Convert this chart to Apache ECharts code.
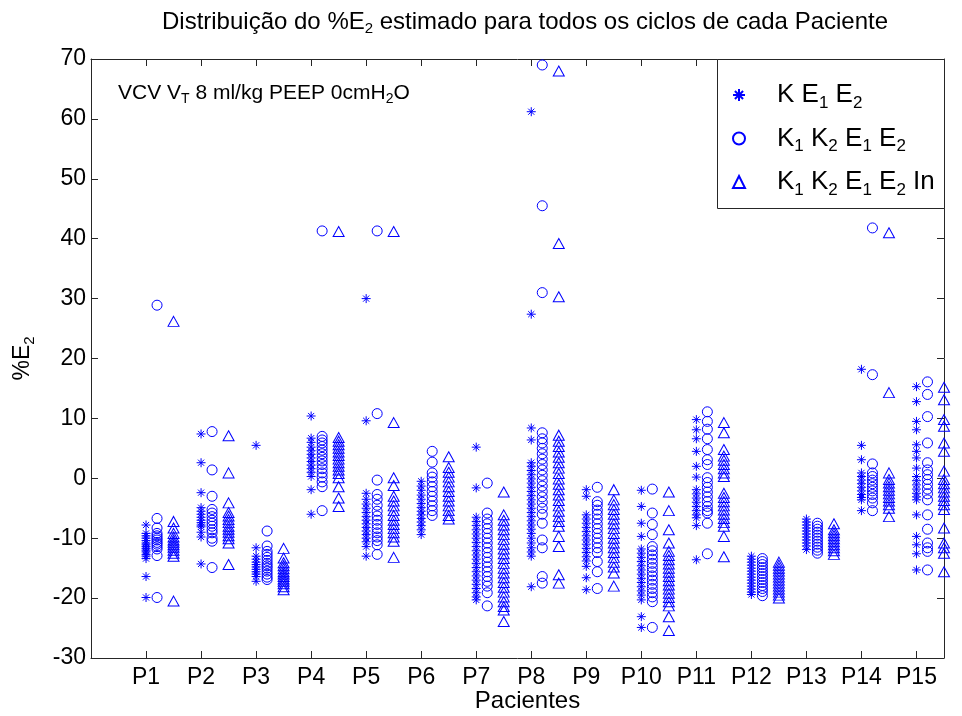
<!DOCTYPE html>
<html>
<head>
<meta charset="utf-8">
<script src="https://cdn.jsdelivr.net/npm/echarts@6/dist/echarts.min.js"></script>
<style>
  html, body { margin: 0; padding: 0; background: #fff; }
  #chart { width: 962px; height: 716px; }
</style>
</head>
<body>
<div id="chart"></div>
<script>
// Patients on the x axis
const patients = ['P1','P2','P3','P4','P5','P6','P7','P8','P9','P10','P11','P12','P13','P14','P15'];

// y axis range and step (%E2)
const yMin = -30;
const yMax = 70;
const yStep = 10;

// Series names (as plain text; subscripts are added in the legend formatter)
const seriesNames = ['K E1 E2', 'K1 K2 E1 E2', 'K1 K2 E1 E2 In'];

// %E2 estimated for every cycle, one list per patient — model K E1 E2
const kE1E2 = [
  [-7.8, -9.2, -9.6, -10.0, -10.4, -10.8, -11.1, -11.4, -11.7, -12.0, -12.3, -12.7, -13.0, -13.4, -16.4, -19.9],
  [7.4, 2.6, -2.4, -4.9, -5.5, -6.0, -6.5, -7.0, -7.4, -7.8, -8.1, -9.0, -9.8, -14.3],
  [5.5, -11.6, -13.0, -13.5, -14.0, -14.4, -14.8, -15.2, -15.6, -16.0, -16.4, -17.2],
  [10.4, 6.7, 6.0, 5.2, 4.6, 4.0, 3.4, 2.8, 2.2, 1.6, 1.0, 0.3, -1.9, -6.0],
  [30.0, 9.6, -2.5, -3.5, -4.3, -5.0, -5.7, -6.4, -7.0, -7.6, -8.2, -8.8, -9.4, -10.0, -10.6, -11.4, -13.0],
  [-0.5, -1.3, -2.0, -2.8, -3.5, -4.2, -4.9, -5.5, -6.1, -6.7, -7.3, -7.9, -8.6, -9.4],
  [5.2, -1.6, -6.5, -7.2, -7.9, -8.6, -9.3, -10.0, -10.7, -11.4, -12.1, -12.8, -13.5, -14.2, -14.9, -15.6, -16.3, -17.0, -17.7, -18.4, -19.1, -19.8, -20.3],
  [61.2, 27.4, 8.4, 6.4, 2.6, 2.0, 1.3, 0.6, -0.1, -0.8, -1.5, -2.2, -2.9, -3.6, -4.3, -5.0, -5.7, -6.4, -7.1, -7.8, -8.5, -9.2, -10.0, -10.8, -11.6, -12.3, -13.0, -18.1],
  [-1.9, -3.0, -6.1, -6.8, -7.5, -8.2, -8.9, -9.6, -10.3, -11.0, -11.7, -12.4, -13.1, -13.8, -14.7, -16.6, -18.6],
  [-2.0, -4.7, -7.5, -9.7, -11.8, -12.5, -13.2, -13.9, -14.6, -15.3, -16.0, -16.7, -17.4, -18.1, -18.8, -19.5, -20.3, -23.1, -24.9],
  [9.8, 8.1, 6.6, 4.5, 2.0, 0.2, -1.9, -2.6, -3.3, -4.0, -4.7, -5.4, -6.1, -6.6, -7.9, -13.6],
  [-13.0, -13.5, -14.0, -14.5, -15.0, -15.5, -16.0, -16.5, -17.0, -17.5, -18.0, -18.5, -19.0, -19.4],
  [-6.8, -7.3, -7.8, -8.3, -8.8, -9.3, -9.8, -10.3, -10.8, -11.3, -11.9],
  [18.2, 5.5, 3.1, 0.9, 0.3, -0.3, -0.9, -1.5, -2.1, -2.7, -3.2, -3.6, -5.4],
  [15.3, 12.8, 9.5, 8.1, 5.6, 4.5, 3.4, 1.7, 0.3, -0.4, -1.1, -1.8, -2.5, -3.1, -3.6, -6.1, -9.7, -11.1, -12.6, -15.3]
];

// Model K1 K2 E1 E2
const k1k2E1E2 = [
  [28.9, -6.7, -8.3, -9.2, -9.6, -10.0, -10.3, -10.7, -11.0, -11.4, -11.8, -12.9, -19.9],
  [7.8, 1.4, -3.0, -5.2, -5.8, -6.4, -7.0, -7.5, -8.0, -8.6, -9.1, -10.0, -10.5, -14.9],
  [-8.8, -11.3, -12.2, -12.7, -13.2, -13.7, -14.2, -14.6, -15.0, -15.5, -16.0, -16.5, -16.9],
  [41.3, 7.0, 6.4, 5.9, 5.3, 4.7, 4.1, 3.5, 2.9, 2.3, 1.6, 0.9, 0.2, -0.6, -1.4, -5.4],
  [41.3, 10.8, -0.3, -2.7, -3.5, -4.5, -5.5, -6.3, -7.0, -7.7, -8.4, -9.1, -9.8, -10.4, -11.1, -12.7],
  [4.5, 2.7, 0.9, 0.2, -0.6, -1.4, -2.2, -3.0, -3.8, -4.6, -5.4, -6.2],
  [-0.8, -5.8, -6.8, -7.6, -8.4, -9.2, -10.0, -10.8, -11.6, -12.4, -13.2, -14.0, -14.8, -15.6, -16.4, -17.2, -18.0, -19.1, -21.3],
  [69.0, 45.5, 31.0, 7.6, 6.6, 5.9, 5.0, 4.1, 3.2, 2.3, 1.4, 0.5, -0.4, -1.3, -2.2, -3.1, -4.0, -5.0, -6.0, -7.5, -10.3, -11.6, -16.4, -17.5],
  [-1.5, -3.9, -4.5, -5.3, -6.0, -6.8, -7.6, -8.4, -9.2, -10.0, -10.8, -11.6, -12.4, -13.9, -15.6, -18.4],
  [-1.8, -5.8, -7.7, -9.4, -11.4, -12.1, -12.8, -13.5, -14.2, -14.9, -15.6, -16.3, -17.0, -17.7, -18.4, -19.1, -19.8, -20.6, -24.9],
  [11.1, 9.5, 8.2, 6.6, 4.8, 3.1, 2.3, 0.1, -0.7, -1.5, -2.3, -3.1, -3.9, -4.7, -5.4, -5.8, -7.5, -12.6],
  [-13.4, -13.9, -14.4, -14.9, -15.4, -15.9, -16.4, -16.9, -17.4, -17.9, -18.4, -18.9, -19.6],
  [-7.5, -8.0, -8.5, -9.0, -9.5, -10.0, -10.5, -11.0, -11.5, -12.0, -12.5],
  [41.8, 17.3, 2.4, 0.9, 0.3, -0.3, -0.9, -1.5, -2.1, -2.7, -3.3, -4.1, -5.4],
  [16.1, 14.0, 10.3, 5.9, 2.6, 1.4, 0.6, -0.2, -1.0, -1.8, -2.6, -3.6, -6.1, -8.5, -10.8, -11.6, -12.2, -15.3]
];

// Model K1 K2 E1 E2 In
const k1k2E1E2In = [
  [26.2, -7.2, -8.3, -9.2, -9.8, -10.3, -10.7, -11.1, -11.5, -12.0, -12.5, -13.0, -20.5],
  [7.1, 0.9, -4.1, -5.7, -6.3, -6.9, -7.4, -8.0, -8.5, -9.0, -9.6, -10.1, -10.8, -14.4],
  [-11.7, -13.3, -14.1, -14.6, -15.1, -15.6, -16.0, -16.4, -16.8, -17.2, -17.6, -18.1, -18.6],
  [41.2, 6.8, 6.2, 5.6, 5.0, 4.4, 3.8, 3.2, 2.6, 2.0, 1.4, 0.8, 0.1, -1.4, -3.3, -4.7],
  [41.2, 9.3, 0.1, -1.2, -3.0, -3.8, -4.6, -5.4, -6.2, -7.0, -7.7, -8.4, -9.1, -9.8, -10.5, -13.2],
  [3.6, 1.8, 1.0, 0.2, -0.6, -1.4, -2.2, -3.0, -3.8, -4.6, -5.4, -6.2, -6.8],
  [-2.3, -6.1, -7.0, -7.8, -8.6, -9.4, -10.2, -11.0, -11.8, -12.6, -13.4, -14.2, -15.0, -15.8, -16.6, -17.4, -18.2, -19.0, -19.8, -20.6, -21.4, -22.0, -23.9],
  [68.0, 39.2, 30.3, 7.2, 6.2, 5.3, 4.4, 3.5, 2.6, 1.7, 0.8, -0.1, -1.0, -1.9, -2.8, -3.7, -4.6, -5.5, -6.4, -7.2, -8.0, -9.7, -11.4, -16.1, -17.5],
  [-1.9, -3.6, -4.4, -5.2, -6.0, -6.8, -7.6, -8.4, -9.2, -10.0, -10.8, -11.6, -12.4, -13.2, -14.0, -14.8, -15.8, -18.0],
  [-2.3, -5.4, -8.6, -10.8, -12.2, -12.9, -13.6, -14.3, -15.0, -15.7, -16.4, -17.1, -17.8, -18.5, -19.2, -19.9, -20.6, -21.3, -23.1, -25.4],
  [9.3, 7.6, 4.8, 3.7, 3.0, 2.3, 1.6, 0.9, 0.3, -2.5, -3.2, -3.9, -4.6, -5.3, -6.0, -6.7, -7.4, -8.0, -9.7, -13.1],
  [-14.0, -14.5, -15.0, -15.5, -16.0, -16.5, -17.0, -17.5, -18.0, -18.5, -19.0, -19.5, -20.0],
  [-7.6, -8.6, -9.1, -9.6, -10.1, -10.6, -11.1, -11.6, -12.1, -12.7],
  [41.0, 14.3, 0.9, -0.2, -0.8, -1.4, -2.0, -2.6, -3.2, -3.8, -4.4, -5.0, -6.4],
  [15.2, 13.1, 9.8, 8.7, 5.9, 4.5, 1.2, -0.2, -0.9, -1.6, -2.3, -3.0, -3.7, -4.4, -5.2, -8.3, -10.8, -11.6, -12.5, -15.6]
];

// ---- styling / layout ----
const FONT = '"Liberation Sans", Arial, Helvetica, sans-serif';
const BLUE = '#0000ff';
const AXIS = '#262626';
const GRID = { left: 91, right: 18, top: 59, bottom: 58 };

// Horizontal shift of each model's column relative to the patient position
const columnShift = [0, 0.2, 0.5];

// MATLAB-like '*' marker drawn as strokes
const STAR = 'path://M5,0L5,10M0,5L10,5M1.6,1.6L8.4,8.4M1.6,8.4L8.4,1.6';
const symbols = [STAR, 'circle', 'triangle'];
const symbolSizes = [9, 10, [11, 10]];

function toPoints(groups, shift) {
  const pts = [];
  groups.forEach((vals, i) => {
    vals.forEach(v => pts.push([i + 1 + shift, v]));
  });
  return pts;
}

// "K1 K2 E1 E2" -> rich text with subscript digits
function withSubscripts(name) {
  return name.split(' ').map(tok => {
    const m = tok.match(/^([A-Za-z]+)(\d)$/);
    return m ? '{n|' + m[1] + '}{s|' + m[2] + '}' : '{n|' + tok + '}';
  }).join('{n| }');
}

const allGroups = [kE1E2, k1k2E1E2, k1k2E1E2In];

const series = allGroups.map((groups, k) => ({
  name: seriesNames[k],
  type: 'scatter',
  xAxisIndex: 0,
  yAxisIndex: 0,
  data: toPoints(groups, columnShift[k]),
  symbol: symbols[k],
  symbolSize: symbolSizes[k],
  itemStyle: { color: 'rgba(0,0,0,0)', borderColor: BLUE, borderWidth: 1, opacity: 1 },
  emphasis: { disabled: true },
  silent: true,
  animation: false,
  z: 3
}));

const tickStyle = { show: true, inside: true, length: 7, lineStyle: { color: AXIS, width: 1 } };
const lineStyle = { show: true, onZero: false, lineStyle: { color: AXIS, width: 1 } };

const chart = echarts.init(document.getElementById('chart'), null, { renderer: 'canvas' });

chart.setOption({
  backgroundColor: '#ffffff',
  animation: false,
  grid: {
    left: GRID.left, right: GRID.right, top: GRID.top, bottom: GRID.bottom,
    containLabel: false, outerBoundsMode: 'none'
  },
  xAxis: [
    {
      type: 'value', position: 'bottom', min: 0, max: patients.length + 0.5, interval: 1,
      axisLine: lineStyle, axisTick: tickStyle, splitLine: { show: false },
      axisLabel: {
        margin: 8, color: '#000', fontFamily: FONT, fontSize: 23,
        showMinLabel: false, showMaxLabel: false,
        formatter: v => (Number.isInteger(v) && v >= 1 && v <= patients.length) ? patients[v - 1] : ''
      },
      name: 'Pacientes', nameLocation: 'middle', nameGap: 31, nameMoveOverlap: false,
      nameTextStyle: { color: '#000', fontFamily: FONT, fontSize: 24, padding: [0, 0, 0, 20] }
    },
    {
      type: 'value', position: 'top', min: 0, max: patients.length + 0.5, interval: 1,
      axisLine: lineStyle, axisTick: tickStyle, axisLabel: { show: false }, splitLine: { show: false }
    }
  ],
  yAxis: [
    {
      type: 'value', position: 'left', min: yMin, max: yMax, interval: yStep,
      axisLine: lineStyle, axisTick: tickStyle, splitLine: { show: false },
      axisLabel: { margin: 5, color: '#000', fontFamily: FONT, fontSize: 23 },
      name: '{n|%E}{s|2}', nameLocation: 'middle', nameGap: 54, nameRotate: 90, nameMoveOverlap: false,
      nameTextStyle: {
        color: '#000', fontFamily: FONT,
        rich: {
          n: { fontSize: 23, fontFamily: FONT, color: '#000' },
          s: { fontSize: 15, fontFamily: FONT, color: '#000', padding: [13, 0, 0, 0] }
        }
      }
    },
    {
      type: 'value', position: 'right', min: yMin, max: yMax, interval: yStep,
      axisLine: lineStyle, axisTick: tickStyle, axisLabel: { show: false }, splitLine: { show: false }
    }
  ],
  legend: {
    orient: 'vertical',
    left: 727, top: 77,
    itemWidth: 12, itemHeight: 12, itemGap: 14,
    selectedMode: false,
    data: seriesNames,
    formatter: name => withSubscripts(name),
    textStyle: {
      color: '#000', fontFamily: FONT, padding: [0, 0, 0, 27],
      rich: {
        n: { fontSize: 26, fontFamily: FONT, color: '#000' },
        s: { fontSize: 17, fontFamily: FONT, color: '#000', padding: [16, 0, 0, 0] }
      }
    }
  },
  graphic: [
    // legend frame
    {
      type: 'rect', left: 717, top: 59, z: 1, silent: true,
      shape: { width: 227, height: 149 },
      style: { fill: '#fff', stroke: AXIS, lineWidth: 1 }
    },
    // title
    {
      type: 'text', x: 525, y: 22, silent: true,
      style: {
        text: '{n|Distribuição do %E}{s|2}{n| estimado para todos os ciclos de cada Paciente}',
        align: 'center', verticalAlign: 'middle',
        rich: {
          n: { fontSize: 24, fontFamily: FONT, fill: '#000' },
          s: { fontSize: 15, fontFamily: FONT, fill: '#000', padding: [14, 0, 0, 0] }
        }
      }
    },
    // ventilation mode annotation
    {
      type: 'text', x: 118, y: 93, silent: true, z: 5,
      style: {
        text: '{n|VCV V}{s|T}{n| 8 ml/kg PEEP 0cmH}{s|2}{n|O}',
        align: 'left', verticalAlign: 'middle',
        rich: {
          n: { fontSize: 21, fontFamily: FONT, fill: '#000' },
          s: { fontSize: 14, fontFamily: FONT, fill: '#000', padding: [12, 0, 0, 0] }
        }
      }
    }
  ],
  series: series
});
</script>
</body>
</html>
